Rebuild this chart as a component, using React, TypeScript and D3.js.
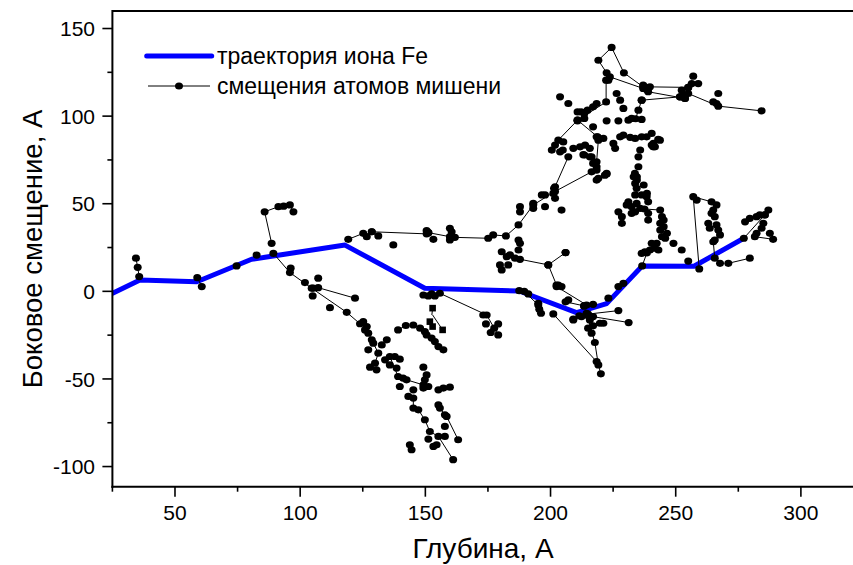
import React from 'react';
import * as d3 from 'd3';

type P = [number, number];

const xTickLabels = [50, 100, 150, 200, 250, 300];
const xMinorTicks = [25, 75, 125, 175, 225, 275, 325];
const yTickLabels = [-100, -50, 0, 50, 100, 150];
const yMinorTicks = [-75, -25, 25, 75, 125];

const legendLabels = ['траектория иона Fe', 'смещения атомов мишени'];
const xTitle = 'Глубина, А';
const yTitle = 'Боковое смещение, А';

// trajectory of the Fe ion (depth, lateral displacement)
const ionPath: P[] = [
  [25.3, -1], [36, 6.5], [58.7, 5.5], [80.6, 18.3], [117.9, 26.4], [149.8, 1.8],
  [187.5, 0.2], [210.4, -12.1], [222.4, -7], [236.6, 14.5], [257.3, 14.3], [277.2, 30.3],
];

// displaced target atoms – each sub-array is one connected chain
const atomsLeft: P[][] = [
  [[34.4, 18.9], [35.1, 13.7], [35.7, 8.4]],
  [[58.9, 7.8], [60.7, 2.7]],
  [[74.6, 14.5]],
  [[82.6, 20.7]],
  [[88.6, 27.4], [85.8, 45.4], [91.3, 48.3], [93.4, 48.6], [95.9, 49.3], [97.3, 45.4]],
  [[89.3, 21.7], [95.9, 10.7], [104.6, 1.8], [118.6, -12.0], [123.9, -18.5]],
  [[96.2, 13.2]],
  [[101.9, 5.0]],
  [[107.2, 7.5]],
  [[105.2, 1.8]],
  [[107.2, 2.1], [121.9, -3.9]],
  [[105.0, -2.6]],
  [[111.9, -9.3]],
  [[137.2, 26.5]],
  [[139.1, -22.0], [142.2, -19.5]],
  [[119.2, 29.7], [125.2, 33.1], [126.6, 31.2], [128.6, 34.0], [131.2, 31.6]],
  [[128.6, 34.0], [150.5, 32.8]],
];

const atomsLower: P[][] = [
  [[125.2, -17.3], [128.6, -27.7], [131.2, -35.3], [129.9, -41.0]],
  [[125.9, -22.0]], [[127.2, -23.9]], [[129.2, -29.6]], [[127.2, -33.4]], [[132.6, -30.6]],
  [[134.6, -27.7]], [[127.9, -43.3]], [[130.5, -44.8]], [[126.6, -20.1]],
  [[133.9, -39.1]], [[137.8, -37.2]], [[139.8, -38.7]],
  [[135.8, -37.2], [139.1, -48.6], [142.5, -50.5], [149.2, -53.4]],
  [[135.8, -42.0]], [[138.5, -43.8]], [[141.1, -49.5]], [[139.8, -54.3]],
  [[149.2, -43.3]], [[150.5, -47.7]], [[149.8, -50.5]], [[149.2, -55.2]], [[151.2, -54.3]],
  [[145.2, -56.2]], [[143.2, -60.0]],
  [[145.2, -60.9], [145.2, -66.6], [147.2, -67.6], [149.8, -73.3], [151.8, -80.0], [155.2, -82.8], [161.1, -96.1]],
  [[151.2, -84.3]], [[157.8, -82.8]], [[153.2, -88.5]], [[154.5, -87.6]], [[143.8, -87.6]], [[144.5, -90.4]],
  [[155.2, -56.2]], [[157.2, -55.2]], [[159.8, -54.7]],
  [[155.2, -64.8], [155.8, -66.6], [157.8, -70.5], [158.5, -71.4], [163.1, -84.7]],
  [[157.8, -77.1]],
  [[145.2, -19.2], [147.9, -21.0], [149.8, -23.0], [150.5, -24.9], [152.5, -26.7], [153.8, -28.7], [155.2, -31.5], [157.2, -33.4]],
  [[149.2, -2.1]], [[151.2, -2.6]], [[152.5, -1.5]], [[153.8, -2.6]],
  [[155.8, -1.1], [174.5, -13.5], [177.5, -21.0], [179.1, -24.9]],
  [[174.2, -18.6]], [[179.1, -18.6]], [[176.1, -23.5]], [[173.1, -13.5]],
];

const squareAtoms: P[] = [[152.9, -9.6], [151.8, -17.3], [152.9, -20.1], [156.9, -22.0]];
const squareLinks: P[][] = [[[152.9, -9.6], [152.6, -13.5]], [[152.9, -13.5], [156.9, -22.0]]];

const atomsCenter: P[][] = [
  [[161.8, 30.8], [175.1, 30.3], [177.1, 32.2], [182.2, 31.6], [187.2, 37.9], [193.1, 49.3], [201.8, 57.0], [216.4, 68.2], [218.4, 73.9], [219.1, 86.3]],
  [[187.8, 48.3]], [[187.8, 45.4]], [[193.1, 50.2]], [[193.1, 47.4]], [[197.8, 55.0]], [[197.8, 48.3]],
  [[201.4, 58.8]], [[201.8, 53.1]], [[204.4, 46.4]], [[196.5, 55.0]], [[201.1, 55.9]],
  [[187.2, 29.3]], [[187.8, 27.4]],
  [[180.5, 22.6]], [[182.5, 19.8]], [[183.8, 20.8]], [[185.8, 18.9]], [[187.2, 23.6]], [[179.8, 15.1]], [[180.5, 12.2]], [[183.1, 15.1]],
  [[187.8, 18.3], [199.1, 15.1], [206.0, 22.1]],
  [[199.1, 15.1], [202.4, 3.6], [203.1, 3.1], [204.4, 2.7]],
  [[202.4, 2.7], [214.4, -7.8]],
  [[150.5, 34.6]], [[151.2, 33.5]], [[153.2, 29.7]],
  [[151.2, 33.5], [159.8, 31.2]],
  [[159.8, 36.0]], [[160.5, 34.0]], [[159.8, 29.3]],
];

const atomsDip: P[][] = [
  [[187.5, 0.4]], [[191.1, -1.5]],
  [[189.5, 0.0], [195.1, -7.8], [195.5, -10.2], [196.2, -12.5]],
  [[195.1, -6.8]],
  [[201.1, -12.9], [218.4, -40.1]],
  [[214.4, -12.5], [217.7, -29.2], [219.1, -42.0], [220.1, -47.1]],
  [[216.4, -23.9]], [[215.0, -21.0]], [[217.0, -19.7]], [[215.7, -16.3]], [[209.1, -16.3]], [[211.5, -14.0]],
  [[213.4, -8.3]], [[217.0, -7.4]], [[207.1, -4.9]], [[203.1, 3.6]], [[229.1, 4.6]], [[227.1, 2.7]], [[223.1, -3.9]],
  [[221.1, -18.2]], [[209.1, -15.9]], [[212.4, -14.4]], [[217.0, -14.4]], [[219.7, -18.2]],
  [[215.0, -13.0], [227.1, -11.0]],
  [[215.0, -14.0], [231.2, -17.8]],
  [[206.0, -6.0], [213.4, -8.3]],
];

const atomsUpper: P[][] = [
  [[222.4, 124.7], [219.1, 131.9], [224.4, 139.2], [229.3, 124.7], [237.0, 116.7]],
  [[223.7, 122.4], [237.0, 115.8]],
  [[223.1, 120.5]],
  [[239.7, 116.7], [255.0, 116.4]],
  [[239.0, 113.9], [253.7, 110.1]],
  [[236.4, 109.1], [251.7, 111.0]],
  [[238.4, 115.2]], [[237.0, 117.7]],
  [[236.4, 109.1], [235.1, 103.4], [234.0, 98.5]],
  [[222.2, 120.5], [222.2, 108.1], [210.8, 97.7], [203.1, 86.3]],
  [[210.8, 97.7], [218.8, 88.2]],
  [[226.4, 112.9]], [[227.8, 109.1]], [[229.1, 104.4]], [[218.4, 107.2]], [[217.0, 105.3]], [[214.8, 103.4]],
  [[213.5, 101.5]], [[212.2, 102.4]], [[210.8, 102.4]], [[213.5, 98.7]], [[210.8, 97.3]], [[203.8, 111.0]],
  [[207.1, 107.2]], [[217.0, 93.9]], [[222.4, 97.3]], [[227.1, 97.3]], [[231.1, 97.7]], [[232.4, 98.7]], [[236.4, 98.1]],
  [[205.1, 85.3]], [[201.8, 83.5]], [[200.5, 80.6]], [[203.8, 79.6]], [[204.9, 80.6]], [[209.1, 81.6]],
  [[211.8, 82.5]], [[213.8, 83.5]], [[215.7, 81.6]], [[213.5, 77.8]], [[215.7, 76.8]],
  [[201.8, 59.7], [207.1, 76.8]],
  [[218.4, 88.2]], [[221.1, 87.3]], [[225.1, 84.4]], [[225.8, 81.6]], [[227.8, 88.2]], [[229.1, 89.2]],
  [[231.8, 87.9]], [[233.8, 87.3]], [[236.4, 88.2]], [[238.4, 88.2]], [[241.1, 84.4]], [[243.7, 86.3]],
  [[240.4, 90.1]], [[240.4, 83.5]], [[241.7, 82.5]], [[243.0, 86.7]], [[241.0, 82.5]],
  [[218.4, 71.1]], [[219.1, 64.5]], [[222.4, 67.3]], [[213.1, 78.0]], [[216.4, 76.8]], [[217.0, 73.0]],
  [[218.4, 69.2]], [[221.7, 66.3]], [[218.4, 63.5]], [[222.4, 66.9]],
  [[235.8, 80.6]], [[235.1, 76.8]], [[235.1, 71.1]], [[234.5, 65.4]], [[233.8, 61.6]], [[237.2, 60.7]], [[238.5, 55.9]],
  [[257.0, 122.8]], [[259.0, 118.6]], [[256.4, 118.6]], [[255.0, 116.4]], [[252.4, 114.8]], [[253.0, 112.0]],
  [[251.7, 111.0]], [[253.7, 110.1]], [[267.0, 112.9]], [[265.0, 108.1]], [[266.3, 107.2]],
  [[255.0, 112.9], [267.0, 105.7], [284.3, 103.0]],
];

const atomsRight: P[][] = [
  [[206.0, 22.1]],
  [[233.7, 67.3]], [[234.5, 63.5]], [[233.2, 65.4]], [[234.4, 58.8]], [[233.8, 55.0]], [[236.4, 55.0]],
  [[238.4, 54.0]], [[239.0, 51.1]], [[231.1, 51.1]], [[230.4, 49.3]], [[232.4, 48.3]], [[234.4, 50.2]],
  [[235.8, 47.4]], [[233.8, 45.4]], [[232.4, 44.5]], [[227.1, 45.4]], [[228.5, 42.6]], [[228.5, 38.8]],
  [[239.0, 44.5]], [[239.0, 40.7]],
  [[237.5, 47.0], [243.8, 46.4], [244.5, 42.6], [245.2, 40.7], [243.8, 38.8], [245.2, 36.9], [243.8, 35.0], [246.5, 33.1], [245.8, 30.3], [244.5, 31.2]],
  [[242.4, 27.4]], [[240.4, 27.4]], [[239.7, 23.6]], [[237.7, 22.6]], [[236.4, 21.7]], [[241.7, 24.6]],
  [[243.1, 23.6]], [[249.1, 27.4]], [[252.4, 23.6]],
  [[238.5, 22.0], [236.6, 14.5]],
  [[264.3, 51.1], [257.0, 54.0], [259.4, 12.8]],
  [[258.4, 52.1]], [[255.0, 17.3]],
  [[266.3, 49.3]], [[265.0, 46.4]], [[264.3, 44.5]], [[265.6, 42.6]], [[263.0, 38.8]], [[263.6, 36.0]],
  [[266.3, 37.9]], [[267.0, 35.0]], [[267.7, 32.2]], [[265.6, 29.3]],
  [[265.0, 28.3], [265.6, 18.9], [267.7, 16.0]],
  [[271.0, 16.0], [279.6, 18.9]],
  [[277.7, 39.7]], [[279.6, 41.7]], [[282.3, 42.6]], [[283.6, 43.6]], [[285.6, 43.6]], [[287.0, 46.4]],
  [[285.0, 38.8]], [[284.3, 36.0]], [[282.3, 33.1]], [[287.6, 33.1]],
  [[277.2, 30.3], [285.6, 43.6]],
  [[281.6, 31.2], [288.9, 29.7]],
];

export default function App() {
  const W = 853;
  const H = 565;
  const left = 112.4;
  const top = 11;
  const bottom = 486.7;
  const right = 876;
  const x = d3.scaleLinear().domain([25, 330]).range([left, right]);
  const y = d3.scaleLinear().domain([-111.5, 160]).range([bottom, top]);
  const line = d3.line<P>().x((d) => x(d[0])).y((d) => y(d[1]));
  const allPaths = [...atomsLeft, ...atomsLower, ...atomsCenter, ...atomsDip, ...atomsUpper, ...atomsRight];
  const font = '"Liberation Sans", Arial, sans-serif';

  return (
    <svg width={W} height={H} style={{ position: 'absolute', left: 0, top: 0, background: '#fff' }} fontFamily={font}>
      <rect x={0} y={0} width={W} height={H} fill="#fff" />
      <defs>
        <clipPath id="plotClip">
          <rect x={left} y={top} width={right - left} height={bottom - top} />
        </clipPath>
      </defs>
      <g clipPath="url(#plotClip)">
        <path d={line(ionPath) || ''} fill="none" stroke="#0000ff" strokeWidth={5} strokeLinejoin="round" strokeLinecap="round" />
        {allPaths.filter((p) => p.length > 1).map((p, i) => (
          <path key={'l' + i} d={line(p) || ''} fill="none" stroke="#000" strokeWidth={1} />
        ))}
        {squareLinks.map((p, i) => (
          <path key={'sl' + i} d={line(p) || ''} fill="none" stroke="#000" strokeWidth={1} />
        ))}
        {allPaths.flat().map((d, i) => (
          <ellipse key={'c' + i} cx={x(d[0])} cy={y(d[1])} rx={4} ry={3.6} fill="#000" />
        ))}
        {squareAtoms.map((d, i) => (
          <rect key={'s' + i} x={x(d[0]) - 3.3} y={y(d[1]) - 3.3} width={6.6} height={6.6} fill="#000" />
        ))}
      </g>
      {/* frame */}
      <line x1={left} x2={W + 5} y1={top} y2={top} stroke="#000" strokeWidth={2} />
      <line x1={left} x2={left} y1={top - 1} y2={bottom + 1} stroke="#000" strokeWidth={2} />
      <line x1={left - 1} x2={W + 5} y1={bottom} y2={bottom} stroke="#000" strokeWidth={2} />
      {/* x ticks */}
      {xTickLabels.map((t) => (
        <g key={'xt' + t}>
          <line x1={x(t)} x2={x(t)} y1={bottom} y2={bottom + 10} stroke="#000" strokeWidth={1.6} />
          <text x={x(t)} y={520} fontSize={21} textAnchor="middle" fill="#000">{t}</text>
        </g>
      ))}
      {xMinorTicks.map((t) => (
        <line key={'xm' + t} x1={x(t)} x2={x(t)} y1={bottom} y2={bottom + 5} stroke="#000" strokeWidth={1.6} />
      ))}
      {/* y ticks */}
      {yTickLabels.map((t) => (
        <g key={'yt' + t}>
          <line x1={left - 10} x2={left} y1={y(t)} y2={y(t)} stroke="#000" strokeWidth={1.6} />
          <text x={95} y={y(t)} dy="0.36em" fontSize={21} textAnchor="end" fill="#000">{t}</text>
        </g>
      ))}
      {yMinorTicks.map((t) => (
        <line key={'ym' + t} x1={left - 5} x2={left} y1={y(t)} y2={y(t)} stroke="#000" strokeWidth={1.6} />
      ))}
      {/* axis titles */}
      <text x={483} y={558} fontSize={28} textAnchor="middle" fill="#000">{xTitle}</text>
      <text transform="translate(42,249) rotate(-90)" fontSize={27.5} textAnchor="middle" fill="#000">{yTitle}</text>
      {/* legend */}
      <line x1={146.7} x2={211.7} y1={56} y2={56} stroke="#0000ff" strokeWidth={5} strokeLinecap="round" />
      <text x={217} y={56} dy="0.35em" fontSize={23} fill="#000">{legendLabels[0]}</text>
      <line x1={148} x2={210} y1={86} y2={86} stroke="#000" strokeWidth={1} />
      <ellipse cx={179} cy={86} rx={4} ry={3.6} fill="#000" />
      <text x={217} y={86} dy="0.35em" fontSize={23} fill="#000">{legendLabels[1]}</text>
    </svg>
  );
}
